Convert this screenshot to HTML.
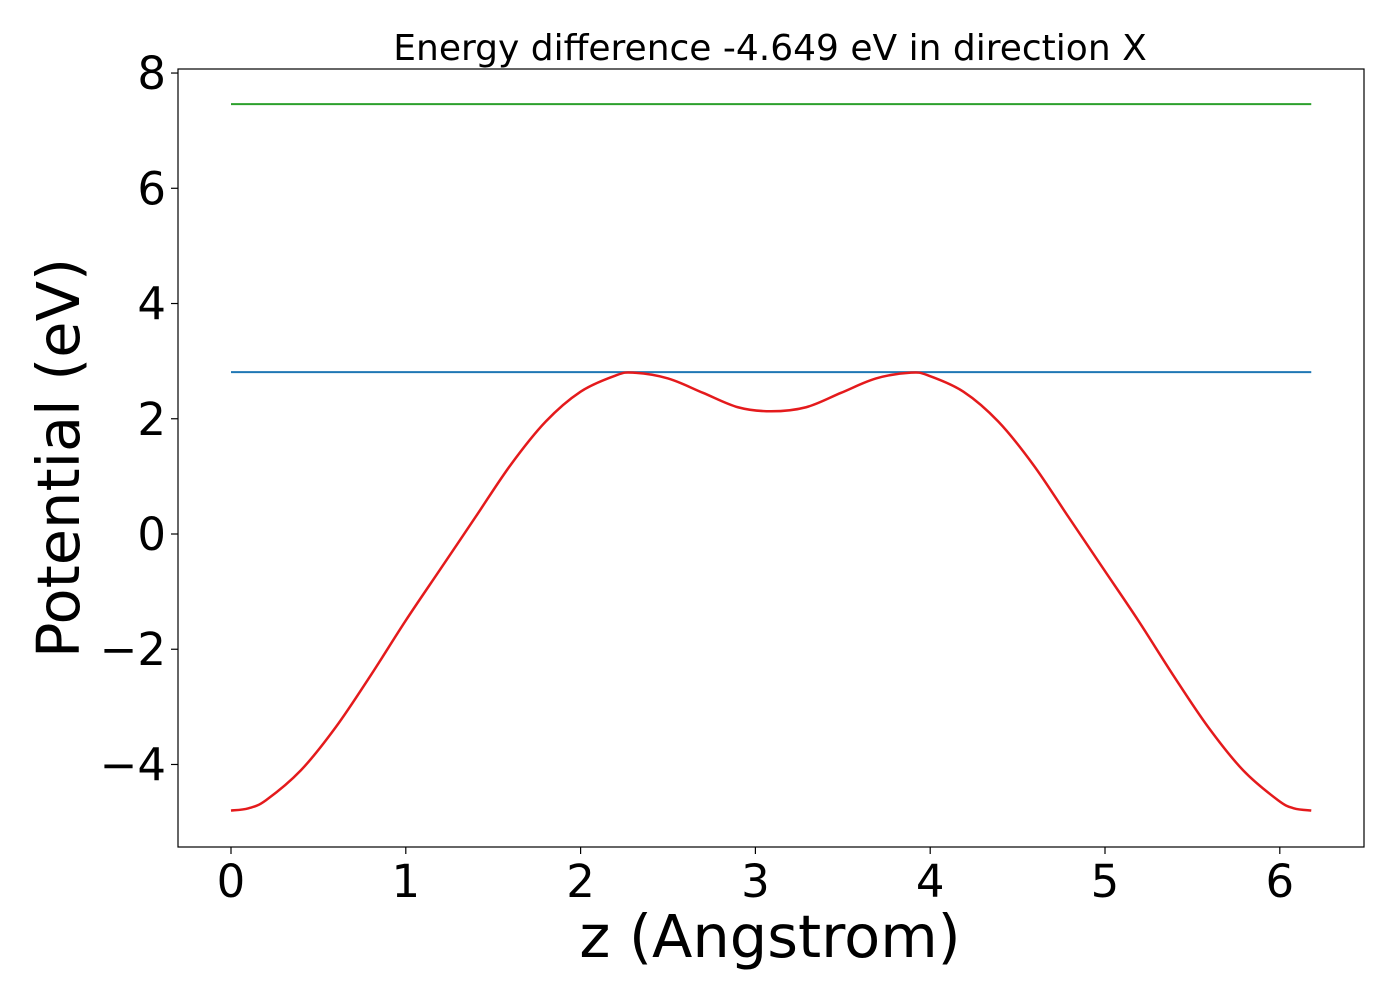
<!DOCTYPE html>
<html><head><meta charset="utf-8"><style>
body{margin:0;background:#fff}
svg text{font-family:"DejaVu Sans","Liberation Sans",sans-serif;fill:#000}
</style></head><body>
<svg id="chart" width="1400" height="1000">
<rect width="1400" height="1000" fill="#fff"/>
<text x="770" y="60" font-size="36" text-anchor="middle">Energy difference -4.649 eV in direction X</text>
<g id="plot"></g>
<rect x="178" y="69" width="1186" height="778" fill="none" stroke="#000" stroke-width="1.2"/>
<text x="770" y="957" font-size="59" text-anchor="middle">z (Angstrom)</text>
<text transform="translate(79,458) rotate(-90)" font-size="59" text-anchor="middle">Potential (eV)</text>
</svg>
<script>
const zVals=[0,0.1,0.2,0.4,0.6,0.8,1.0,1.2,1.4,1.6,1.8,2.0,2.2,2.3,2.5,2.7,2.9,3.09,3.29,3.49,3.69,3.89,3.99,4.19,4.39,4.59,4.79,4.99,5.19,5.39,5.59,5.79,5.99,6.08,6.18];
const potVals=[-4.8,-4.76,-4.62,-4.1,-3.35,-2.45,-1.5,-0.6,0.3,1.2,1.95,2.47,2.75,2.8,2.7,2.45,2.2,2.13,2.2,2.45,2.7,2.8,2.75,2.47,1.95,1.2,0.3,-0.6,-1.5,-2.45,-3.35,-4.1,-4.62,-4.76,-4.8];
const greenLevel=7.46;
const blueLevel=2.81;
const xRange=[0,6.18];
const xTicks=[0,1,2,3,4,5,6];
const yTicks=[-4,-2,0,2,4,6,8];
const sx=v=>231+v*174.8;
const sy=v=>534-v*57.62;
const ns='http://www.w3.org/2000/svg';
const g=document.getElementById('plot');
function mk(t,a){const e=document.createElementNS(ns,t);for(const k in a)e.setAttribute(k,a[k]);g.appendChild(e);return e;}
xTicks.forEach(t=>{
 const l=mk('line',{x1:sx(t),x2:sx(t),y1:847,y2:854,stroke:'#000','stroke-width':1.2});
 
 
 const tx=mk('text',{x:sx(t),y:897,'font-size':45,'text-anchor':'middle'});tx.textContent=t;
 
 
});
yTicks.forEach(t=>{
 const l=mk('line',{x1:171,x2:178,y1:sy(t),y2:sy(t),stroke:'#000','stroke-width':1.2});
 
 
 const tx=mk('text',{x:166,y:sy(t)+16,'font-size':45,'text-anchor':'end'});tx.textContent=(t<0?'\u2212'+(-t):t);
 
 
});
const gl=mk('line',{x1:sx(xRange[0]),x2:sx(xRange[1]),y1:sy(greenLevel),y2:sy(greenLevel),stroke:'#2ca02c','stroke-width':2});


const bl=mk('line',{x1:sx(xRange[0]),x2:sx(xRange[1]),y1:sy(blueLevel),y2:sy(blueLevel),stroke:'#1f77b4','stroke-width':2});


const P=zVals.map((z,i)=>[sx(z),sy(potVals[i])]);
let d='M'+P[0][0]+','+P[0][1];
for(let i=0;i<P.length-1;i++){const p0=P[Math.max(0,i-1)],p1=P[i],p2=P[i+1],p3=P[Math.min(P.length-1,i+2)];
 d+=` C${p1[0]+(p2[0]-p0[0])/6},${p1[1]+(p2[1]-p0[1])/6} ${p2[0]-(p3[0]-p1[0])/6},${p2[1]-(p3[1]-p1[1])/6} ${p2[0]},${p2[1]}`;}
const rc=mk('path',{d:d,fill:'none',stroke:'#e41a1c','stroke-width':2.5});


</script>
</body></html>
